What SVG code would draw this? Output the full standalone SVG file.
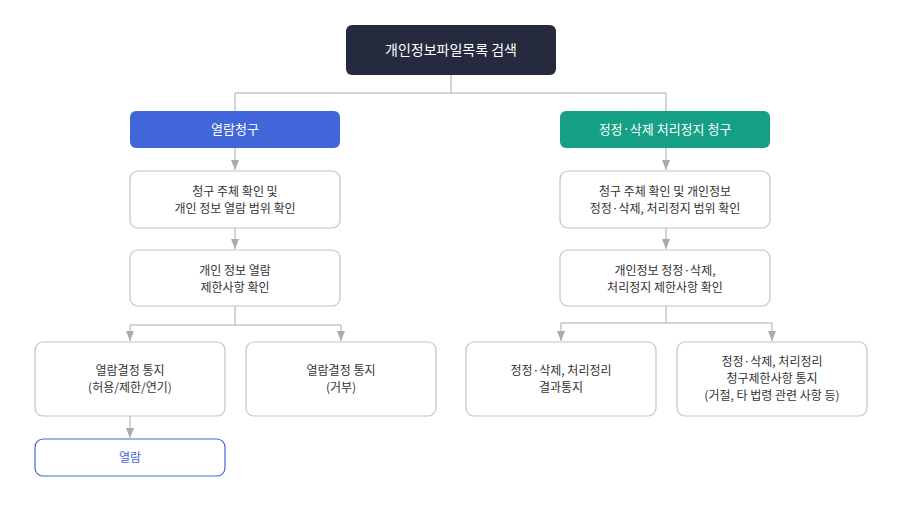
<svg xmlns="http://www.w3.org/2000/svg" width="902" height="509" viewBox="0 0 902 509">
<style>
text{font-family:"Noto Sans CJK KR","Noto Sans",sans-serif;font-size:12px;fill:#333;text-anchor:middle}
.b{fill:#fff;stroke:#c4c4c4;stroke-width:1.2}
.w{fill:#fff;font-size:13px}
.c{fill:none;stroke:#aaa;stroke-width:1}
</style>
<defs><marker id="a" viewBox="0 0 10 8" refX="10" refY="4" markerWidth="10" markerHeight="8" markerUnits="userSpaceOnUse" orient="auto"><path d="M0,0L10,4L0,8z" fill="#aaa"/></marker></defs>
<g id="connectors" class="c">
<path d="M451,75V93M235,93H666M235,93V111M666,93V111"/>
<path d="M235,148V170" marker-end="url(#a)"/>
<path d="M235,228V249" marker-end="url(#a)"/>
<path d="M235,306V325H130V341" marker-end="url(#a)"/>
<path d="M235,325H341V341" marker-end="url(#a)"/>
<path d="M130,416V438" marker-end="url(#a)"/>
<path d="M666,148V170" marker-end="url(#a)"/>
<path d="M666,228V249" marker-end="url(#a)"/>
<path d="M666,306V323H561V341" marker-end="url(#a)"/>
<path d="M666,323H772V341" marker-end="url(#a)"/>
</g>
<g id="top"><rect x="346" y="25" width="210" height="50" rx="6" fill="#262a3e"/><text class="w" x="451" y="55" style="font-size:14px">개인정보파일목록 검색</text></g>
<g id="req"><rect x="130" y="111" width="210" height="37" rx="6" fill="#4166d9"/><text class="w" x="235" y="134">열람청구</text></g>
<g id="req2"><rect x="560" y="111" width="210" height="37" rx="6" fill="#15a086"/><text class="w" x="665" y="134">정정·삭제 처리정지 청구</text></g>
<g id="l1"><rect class="b" x="130" y="171" width="210" height="57" rx="8"/><text x="235" y="196">청구 주체 확인 및</text><text x="235" y="213">개인 정보 열람 범위 확인</text></g>
<g id="l2"><rect class="b" x="130" y="250" width="210" height="56" rx="8"/><text x="235" y="275">개인 정보 열람</text><text x="235" y="292">제한사항 확인</text></g>
<g id="l3"><rect class="b" x="35" y="342" width="190" height="74" rx="8"/><text x="130" y="375">열람결정 통지</text><text x="130" y="392">(허용/제한/연기)</text></g>
<g id="l4"><rect class="b" x="246" y="342" width="190" height="74" rx="8"/><text x="341" y="375">열람결정 통지</text><text x="341" y="392">(거부)</text></g>
<g id="l5"><rect x="35" y="439" width="190" height="37" rx="8" fill="#fff" stroke="#4166d9" stroke-width="1.2"/><text x="130" y="462" style="fill:#4166d9">열람</text></g>
<g id="r1"><rect class="b" x="560" y="171" width="210" height="57" rx="8"/><text x="665" y="196">청구 주체 확인 및 개인정보</text><text x="665" y="213">정정·삭제, 처리정지 범위 확인</text></g>
<g id="r2"><rect class="b" x="560" y="250" width="210" height="56" rx="8"/><text x="665" y="275">개인정보 정정·삭제,</text><text x="665" y="292">처리정지 제한사항 확인</text></g>
<g id="r3"><rect class="b" x="466" y="342" width="190" height="74" rx="8"/><text x="561" y="375">정정·삭제, 처리정리</text><text x="561" y="392">결과통지</text></g>
<g id="r4"><rect class="b" x="677" y="342" width="190" height="74" rx="8"/><text x="772" y="366">정정·삭제, 처리정리</text><text x="772" y="383">청구제한사항 통지</text><text x="772" y="400">(거절, 타 법령 관련 사항 등)</text></g>
</svg>
